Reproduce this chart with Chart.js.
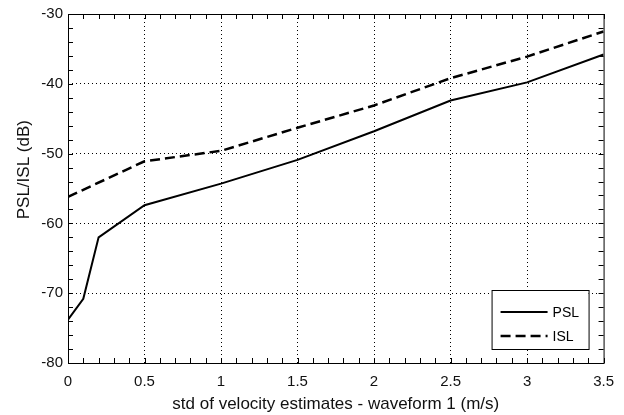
<!DOCTYPE html>
<html>
<head>
<meta charset="utf-8">
<script src="https://cdn.jsdelivr.net/npm/chart.js@4.4.1/dist/chart.umd.min.js"></script>
<style>
  html, body { margin: 0; padding: 0; background: #fff; }
  #wrap { width: 624px; height: 415px; }
</style>
</head>
<body>
<div id="wrap"><canvas id="chart" width="624" height="415"></canvas></div>
<script>
// velocity spread (m/s) and sidelobe levels (dB)
const pslStd = [0, 0.1, 0.2, 0.5, 1, 1.5, 2, 2.5, 3, 3.5];
const pslDb = [-73.8, -70.8, -62.0, -57.4, -54.3, -50.9, -46.8, -42.4, -39.8, -35.8];
const islStd = [0, 0.5, 1, 1.5, 2, 2.5, 3, 3.5];
const islDb = [-56.2, -51.1, -49.6, -46.3, -43.1, -39.2, -36.1, -32.5];
const xTicks = [0, 0.5, 1, 1.5, 2, 2.5, 3, 3.5];
const yTicks = [-80, -70, -60, -50, -40, -30];
const yTitle = 'PSL/ISL (dB)';

const toPoints = (xs, ys) => xs.map((x, i) => ({ x: x, y: ys[i] }));
const FONT = '"Liberation Sans", Arial, sans-serif';

// box, inner ticks, y title and legend drawn on top of the plot
const frame = {
  id: 'frame',
  afterDraw(chart) {
    const { ctx, chartArea: a, scales } = chart;
    const xs = scales.x, ys = scales.y;
    ctx.save();
    ctx.strokeStyle = '#000';
    ctx.lineWidth = 1;
    ctx.strokeRect(a.left + 0.5, a.top + 0.5, a.right - a.left, a.bottom - a.top);

    ctx.beginPath();
    for (let v = 0; v <= 35; v++) {
      const px = Math.round(xs.getPixelForValue(v / 10)) + 0.5;
      ctx.moveTo(px, a.bottom); ctx.lineTo(px, a.bottom - 5);
      ctx.moveTo(px, a.top); ctx.lineTo(px, a.top + 5);
    }
    for (let v = -80; v <= -30; v += 2) {
      const py = Math.round(ys.getPixelForValue(v)) + 0.5;
      ctx.moveTo(a.left, py); ctx.lineTo(a.left + 5, py);
      ctx.moveTo(a.right, py); ctx.lineTo(a.right - 5, py);
    }
    ctx.stroke();

    // y axis title, a little above the middle of the axis
    ctx.save();
    ctx.translate(24, ys.getPixelForValue(-52.3));
    ctx.rotate(-Math.PI / 2);
    ctx.font = '17px ' + FONT;
    ctx.fillStyle = '#111';
    ctx.textAlign = 'center';
    ctx.textBaseline = 'middle';
    ctx.fillText(yTitle, 0, 0);
    ctx.restore();

    // legend
    const lx = a.right - 112, ly = a.bottom - 73, lw = 97, lh = 59;
    ctx.fillStyle = '#fff';
    ctx.fillRect(lx, ly, lw, lh);
    ctx.strokeRect(lx + 0.5, ly + 0.5, lw, lh);
    const items = chart.data.datasets;
    ctx.font = '14px ' + FONT;
    ctx.textBaseline = 'middle';
    items.forEach((ds, i) => {
      const y = ly + 22 + i * 24;
      ctx.beginPath();
      ctx.lineWidth = ds.borderWidth;
      ctx.setLineDash(ds.borderDash || []);
      ctx.moveTo(lx + 9, y); ctx.lineTo(lx + 56, y);
      ctx.stroke();
      ctx.setLineDash([]);
      ctx.fillStyle = '#000';
      ctx.fillText(ds.label, lx + 61, y + 1);
    });
    ctx.restore();
  }
};

new Chart(document.getElementById('chart'), {
  type: 'scatter',
  data: {
    datasets: [
      {
        label: 'PSL',
        data: toPoints(pslStd, pslDb),
        showLine: true,
        borderColor: '#000',
        borderWidth: 2,
        pointRadius: 0,
        tension: 0
      },
      {
        label: 'ISL',
        data: toPoints(islStd, islDb),
        showLine: true,
        borderColor: '#000',
        borderWidth: 2.5,
        borderDash: [10, 5],
        pointRadius: 0,
        tension: 0
      }
    ]
  },
  options: {
    responsive: false,
    animation: false,
    layout: { padding: { top: 13, right: 18, left: 0, bottom: 0 } },
    plugins: {
      legend: { display: false },
      tooltip: { enabled: false }
    },
    scales: {
      x: {
        type: 'linear',
        min: 0,
        max: 3.5,
        afterBuildTicks: s => { s.ticks = xTicks.map(v => ({ value: v })); },
        afterFit: s => { s.height = 52; },
        grid: {
          color: ctx => (ctx.tick && (ctx.tick.value === 0 || ctx.tick.value === 3.5)) ? 'rgba(0,0,0,0)' : '#000',
          lineWidth: 1,
          drawTicks: false
        },
        border: { display: false, dash: [1, 3] },
        ticks: {
          color: '#111',
          padding: 10,
          maxRotation: 0,
          font: { family: FONT, size: 15 },
          callback: v => String(v)
        },
        title: {
          display: true,
          text: 'std of velocity estimates - waveform 1 (m/s)',
          color: '#111',
          font: { family: FONT, size: 17 },
          padding: { top: 0, bottom: 0 }
        }
      },
      y: {
        min: -80,
        max: -30,
        afterBuildTicks: s => { s.ticks = yTicks.map(v => ({ value: v })); },
        afterFit: s => { s.width = 68; },
        grid: {
          color: ctx => (ctx.tick && (ctx.tick.value === -80 || ctx.tick.value === -30)) ? 'rgba(0,0,0,0)' : '#000',
          lineWidth: 1,
          drawTicks: false
        },
        border: { display: false, dash: [1, 3] },
        ticks: {
          color: '#111',
          padding: 5,
          font: { family: FONT, size: 15 }
        }
      }
    }
  },
  plugins: [frame]
});
</script>
</body>
</html>
